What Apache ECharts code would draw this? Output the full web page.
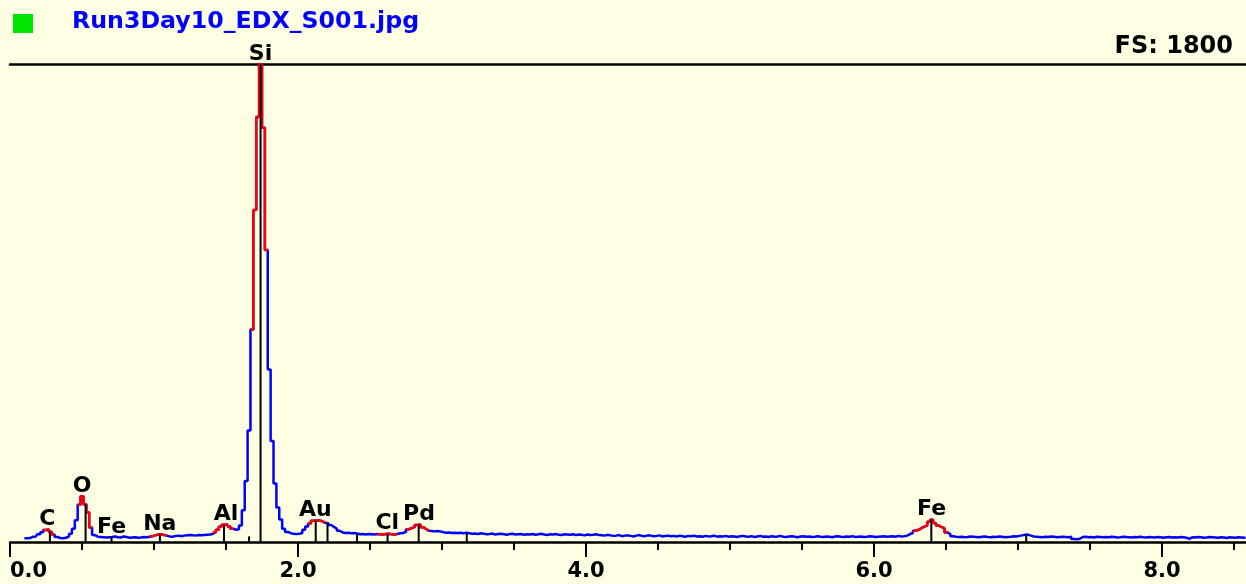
<!DOCTYPE html>
<html>
<head>
<meta charset="utf-8">
<script src="https://cdn.jsdelivr.net/npm/echarts@6/dist/echarts.min.js"></script>
<style>
  html, body { margin: 0; padding: 0; background: #fefee2; }
  #chart { width: 1246px; height: 584px; }
</style>
</head>
<body>
<div id="chart"></div>
<script>
// EDX spectrum: counts per 20 eV channel, first channel at 0.10 keV
const spectrumFile = 'Run3Day10_EDX_S001.jpg';
const fullScale = 1800;
const firstChannelKeV = 0.10;
const channelKeV = 0.02;

const counts = [
  // 0.10 - 0.58
  14, 14, 15, 20, 21, 29, 37, 45, 47, 39, 28, 19, 15, 14, 16, 21, 31, 50, 82, 140, 172, 142, 112, 55, 26,
  // 0.60 - 1.08
  20, 19, 18, 17, 18, 19, 21, 18, 17, 21, 19, 16, 17, 18, 16, 17, 19, 18, 20, 22, 25, 28, 29, 26, 24,
  // 1.10 - 1.58
  21, 20, 23, 24, 22, 24, 25, 26, 25, 24, 26, 25, 26, 27, 28, 31, 37, 46, 57, 65, 66, 58, 50, 46, 48,
  // 1.60 - 2.08
  62, 120, 230, 420, 800, 1250, 1600, 1800, 1560, 1100, 650, 380, 220, 130, 85, 50, 38, 33, 31, 30, 31, 34, 46, 58, 70,
  // 2.10 - 2.58
  80, 81, 81, 78, 72, 72, 64, 57, 50, 42, 36, 34, 35, 33, 34, 32, 29, 30, 28, 30, 29, 28, 30, 29, 28,
  // 2.60 - 3.08
  30, 31, 29, 28, 30, 33, 34, 38, 48, 52, 56, 64, 66, 56, 49, 42, 41, 40, 41, 40, 37, 35, 36, 34, 35,
  // 3.10 - 3.58
  34, 35, 33, 35, 33, 31, 32, 30, 33, 31, 29, 30, 32, 28, 30, 31, 29, 27, 30, 31, 28, 29, 30, 27, 29,
  // 3.60 - 4.08
  28, 30, 27, 29, 31, 28, 26, 29, 28, 30, 27, 26, 29, 28, 27, 29, 26, 28, 27, 25, 28, 26, 27, 29, 26,
  // 4.10 - 4.58
  25, 24, 27, 25, 23, 24, 26, 22, 24, 25, 23, 21, 24, 26, 23, 22, 25, 24, 22, 23, 25, 21, 23, 24, 22,
  // 4.60 - 5.08
  23, 21, 24, 22, 20, 23, 22, 24, 21, 22, 20, 23, 21, 22, 24, 20, 22, 21, 23, 20, 22, 21, 19, 22, 23,
  // 5.10 - 5.58
  21, 20, 22, 19, 21, 23, 20, 21, 19, 22, 20, 21, 23, 20, 19, 21, 22, 20, 18, 21, 22, 20, 21, 19, 20,
  // 5.60 - 6.08
  22, 20, 19, 21, 20, 18, 21, 22, 20, 19, 21, 20, 22, 19, 20, 21, 19, 20, 22, 21, 19, 20, 21, 22, 20,
  // 6.10 - 6.58
  21, 22, 20, 23, 21, 22, 24, 30, 34, 42, 46, 52, 58, 62, 76, 84, 72, 62, 56, 52, 36, 30, 22, 20, 19,
  // 6.60 - 7.08
  20, 18, 19, 21, 20, 19, 18, 20, 21, 19, 18, 20, 19, 21, 20, 18, 19, 20, 22, 21, 23, 25, 27, 28, 24,
  // 7.10 - 7.58
  21, 20, 19, 18, 20, 19, 21, 20, 18, 19, 20, 19, 18, 20, 11, 10, 12, 19, 20, 18, 19, 17, 20, 19, 18,
  // 7.60 - 8.08
  19, 18, 20, 19, 17, 18, 20, 19, 18, 17, 19, 18, 20, 18, 17, 19, 18, 17, 19, 18, 16, 18, 19, 17, 18,
  // 8.10 - 8.58
  17, 19, 18, 16, 12, 18, 17, 19, 18, 16, 17, 19, 18, 17, 16, 18, 17, 15, 18, 17, 16, 18, 17, 16, 17
];

// Regions of interest (highlighted in red) and their element labels
const roiNames = ['C', 'O', 'Na', 'Al', 'Si', 'Au', 'Cl', 'Pd', 'Fe'];
const roiLowKeV = [0.23, 0.47, 0.98, 1.42, 1.68, 2.08, 2.56, 2.76, 6.28];
const roiHighKeV = [0.30, 0.57, 1.09, 1.54, 1.79, 2.18, 2.69, 2.90, 6.50];

// Labelled line without a region of interest
const extraLabelNames = ['Fe'];
const extraLabelKeV = [0.705];

// Characteristic X-ray line markers (keV) and their height relative to the spectrum
const markerKeV = [0.277, 0.525, 0.705, 1.041, 1.486, 1.660, 1.740, 2.123, 2.205, 2.410, 2.622, 2.838, 3.172, 6.398, 7.057];
const markerRatio = [1, 1, 1, 1, 1, 0.05, 1, 1, 1, 1, 1, 1, 1, 1, 1];

const tickLabelStep = 2;
const minorTickStep = 0.5;

// ---- derived series ----
const keVAt = i => Math.round((firstChannelKeV + i * channelKeV) * 1000) / 1000;
const channelOf = e => Math.round((e - firstChannelKeV) / channelKeV);
const spectrum = counts.map((c, i) => [keVAt(i), c]);

const inRoi = e => roiLowKeV.some((lo, k) => e >= lo - 1e-6 && e <= roiHighKeV[k] + 1e-6);
const roiSpectrum = spectrum.map(([e, c]) => [e, inRoi(e) ? c : '-']);

const markers = markerKeV.map((e, k) => [e, counts[channelOf(e)] * markerRatio[k]]);

const labelPoints = roiNames.map((name, k) => {
  let best = null;
  spectrum.forEach(([e, c]) => {
    if (e >= roiLowKeV[k] - 1e-6 && e <= roiHighKeV[k] + 1e-6 && (!best || c > best[1])) best = [e, c];
  });
  return { name, value: best };
}).concat(extraLabelNames.map((name, k) => ({
  name, value: [extraLabelKeV[k], counts[channelOf(extraLabelKeV[k])]]
})));

const FONT = '"DejaVu Sans", "Liberation Sans", sans-serif';
const chart = echarts.init(document.getElementById('chart'), null, { renderer: 'canvas' });

const axisBase = { type: 'value', min: 0, max: 9, splitLine: { show: false } };

chart.setOption({
  backgroundColor: '#fefee2',
  animation: false,
  grid: { left: 10, right: -60, top: 64, bottom: 42, containLabel: false, outerBoundsMode: 'none' },
  xAxis: [
    Object.assign({}, axisBase, {
      position: 'bottom', interval: minorTickStep,
      axisLine: { show: true, onZero: false, lineStyle: { color: '#000', width: 2.5 } },
      axisTick: { show: true, length: 8, lineStyle: { color: '#000', width: 2 } },
      axisLabel: { show: false }
    }),
    Object.assign({}, axisBase, {
      position: 'top',
      axisLine: { show: true, onZero: false, lineStyle: { color: '#000', width: 2.5 } },
      axisTick: { show: false },
      axisLabel: { show: false }
    }),
    Object.assign({}, axisBase, {
      position: 'bottom', interval: tickLabelStep,
      axisLine: { show: false },
      axisTick: { show: true, length: 15, lineStyle: { color: '#000', width: 2 } },
      axisLabel: {
        show: true, margin: 19, alignMinLabel: 'left',
        formatter: v => v.toFixed(1),
        color: '#000', fontSize: 21, fontWeight: 'bold', fontFamily: FONT
      }
    })
  ],
  yAxis: { type: 'value', min: 0, max: fullScale, show: false },
  graphic: [
    { type: 'rect', left: 13, top: 14, shape: { width: 20, height: 19 }, style: { fill: '#00e600' } },
    { type: 'text', left: 72, top: 10, style: { text: spectrumFile, font: 'bold 23.7px ' + FONT, fill: '#0000ff' } },
    { type: 'text', right: 13, top: 35, style: { text: 'FS: ' + fullScale, font: 'bold 24px ' + FONT, fill: '#000' } }
  ],
  series: [
    {
      type: 'line', name: 'spectrum', data: spectrum, step: 'middle',
      showSymbol: false, symbol: 'none', silent: true,
      lineStyle: { color: '#0000ff', width: 2.5 }, z: 2
    },
    {
      type: 'line', name: 'roi', data: roiSpectrum, step: 'middle', connectNulls: false,
      showSymbol: false, symbol: 'none', silent: true,
      lineStyle: { color: '#ff0000', width: 2.5 }, z: 3
    },
    {
      type: 'custom', name: 'lines', data: markers, silent: true, z: 4,
      renderItem(params, api) {
        const e = api.value(0), h = api.value(1);
        const p0 = api.coord([e, 0]);
        const p1 = api.coord([e, h]);
        return {
          type: 'line',
          shape: { x1: p0[0], y1: p0[1], x2: p1[0], y2: p1[1] },
          style: { stroke: '#000', lineWidth: 2 }
        };
      }
    },
    {
      type: 'scatter', name: 'labels', data: labelPoints, symbolSize: 0, silent: true, z: 5,
      itemStyle: { opacity: 1 },
      label: {
        show: true, position: 'top', distance: -1, formatter: '{b}', opacity: 1,
        color: '#000', fontSize: 22, fontWeight: 'bold', fontFamily: FONT,
        textBorderWidth: 0
      }
    }
  ]
});
</script>
</body>
</html>
